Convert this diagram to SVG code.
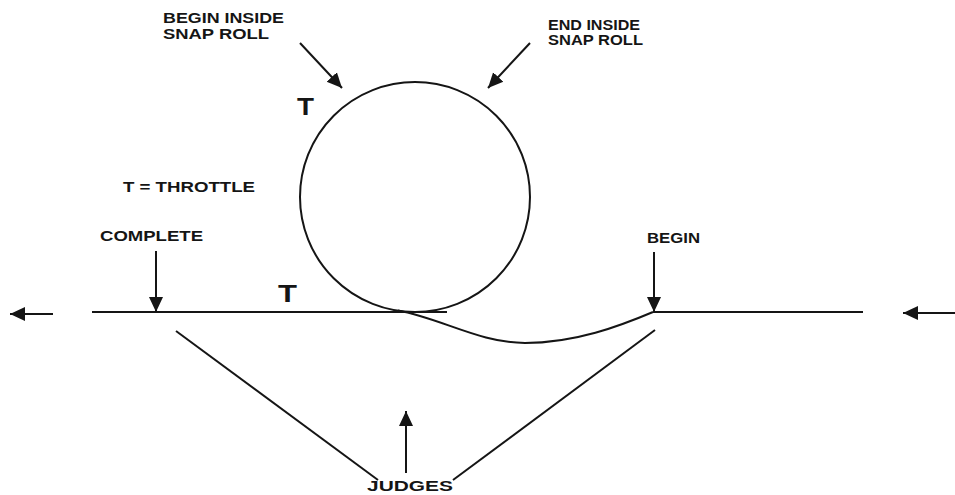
<svg xmlns="http://www.w3.org/2000/svg" width="955" height="495" viewBox="0 0 955 495">
<style>
.ln{fill:none;stroke:#151515;stroke-width:2;stroke-linecap:butt}
.ar{fill:none;stroke:#151515;stroke-width:2;marker-end:url(#ah)}
.lb{font-family:"Liberation Sans",Arial,sans-serif;font-weight:bold;font-size:14px;fill:#151515}
.bt{font-family:"Liberation Sans",Arial,sans-serif;font-weight:bold;font-size:23px;fill:#151515}
</style>
<defs>
<marker id="ah" markerUnits="userSpaceOnUse" markerWidth="16" markerHeight="16" refX="15" refY="8" orient="auto">
<path d="M0,1 L15,8 L0,15 Z" fill="#151515"/>
</marker>
</defs>
<rect width="955" height="495" fill="#ffffff"/>
<g id="loop">
<circle class="ln" cx="415" cy="197" r="115"/>
<path class="ln" d="M398,310.5 C440,318 480,343 525,343 C575,343 620,326 653,312"/>
</g>
<g id="baseline-left"><line class="ln" x1="92" y1="312" x2="447" y2="312"/></g>
<g id="baseline-right"><line class="ln" x1="653" y1="312" x2="863" y2="312"/></g>
<g id="judges-lines">
<line class="ln" x1="176" y1="331" x2="378" y2="480"/>
<line class="ln" x1="655" y1="330" x2="453" y2="480"/>
</g>
<g id="connectors">
<line class="ar" x1="300" y1="43" x2="342" y2="88"/>
<line class="ar" x1="530" y1="43" x2="488" y2="88"/>
<line class="ar" x1="156" y1="251" x2="156" y2="312"/>
<line class="ar" x1="654" y1="252" x2="654" y2="312"/>
<line class="ar" x1="406" y1="473" x2="406" y2="411"/>
<line class="ar" x1="53" y1="314" x2="10" y2="314"/>
<line class="ar" x1="955" y1="313" x2="903" y2="313"/>
</g>
<g id="label-begin-inside">
<text class="lb" x="163" y="23" textLength="121" lengthAdjust="spacingAndGlyphs">BEGIN INSIDE</text>
<text class="lb" x="163" y="39" textLength="106" lengthAdjust="spacingAndGlyphs">SNAP ROLL</text>
</g>
<g id="label-end-inside">
<text class="lb" x="548" y="30" font-size="13" textLength="92" lengthAdjust="spacingAndGlyphs">END INSIDE</text>
<text class="lb" x="548" y="45" font-size="13" textLength="95" lengthAdjust="spacingAndGlyphs">SNAP ROLL</text>
</g>
<g id="label-t-top"><text class="bt" x="297" y="115" textLength="17" lengthAdjust="spacingAndGlyphs">T</text></g>
<g id="label-throttle"><text class="lb" x="123" y="192" textLength="132" lengthAdjust="spacingAndGlyphs">T = THROTTLE</text></g>
<g id="label-complete"><text class="lb" x="100" y="241" textLength="103" lengthAdjust="spacingAndGlyphs">COMPLETE</text></g>
<g id="label-t-bottom"><text class="bt" x="278" y="302" textLength="19" lengthAdjust="spacingAndGlyphs">T</text></g>
<g id="label-begin"><text class="lb" x="647" y="243" textLength="53" lengthAdjust="spacingAndGlyphs">BEGIN</text></g>
<g id="label-judges"><text class="lb" x="367" y="491" font-size="13" textLength="86" lengthAdjust="spacingAndGlyphs">JUDGES</text></g>
</svg>
